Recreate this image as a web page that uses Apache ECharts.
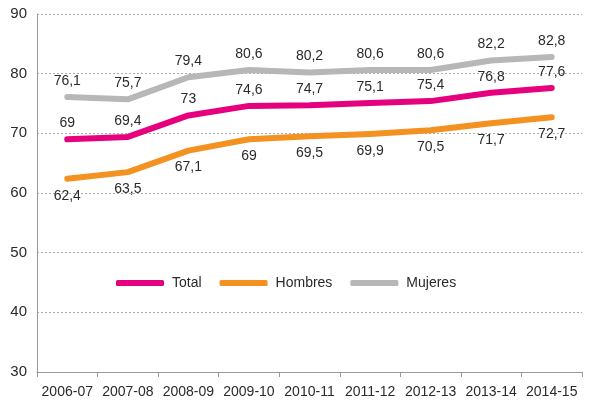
<!DOCTYPE html>
<html><head><meta charset="utf-8">
<script src="https://cdn.jsdelivr.net/npm/echarts@6/dist/echarts.min.js"></script>
<style>html,body{margin:0;padding:0;background:#fff}#c{width:590px;height:401px}</style>
</head><body><div id="c"></div>
<script>
const categories = ['2006-07','2007-08','2008-09','2009-10','2010-11','2011-12','2012-13','2013-14','2014-15'];
const total = [69, 69.4, 73, 74.6, 74.7, 75.1, 75.4, 76.8, 77.6];
const hombres = [62.4, 63.5, 67.1, 69, 69.5, 69.9, 70.5, 71.7, 72.7];
const mujeres = [76.1, 75.7, 79.4, 80.6, 80.2, 80.6, 80.6, 82.2, 82.8];
const yTicks = {min: 30, max: 90, interval: 10};

const FONT = '"Liberation Sans Narrow", "Arial Narrow", "Liberation Sans", sans-serif';
const fmt = p => String(p.value).replace('.', ',');
function mk(name, data, color, pos) {
  return {
    name, type: 'line', data,
    symbol: 'circle', symbolSize: 0, showSymbol: true,
    lineStyle: {width: 6, color, cap: 'round', join: 'round'},
    itemStyle: {color},
    label: {show: true, position: pos, distance: pos === 'top' ? 9 : 10, formatter: fmt,
            color: '#2a2a2a', fontFamily: FONT, fontSize: 14},
    emphasis: {disabled: true}, animation: false
  };
}
const chart = echarts.init(document.getElementById('c'));
chart.setOption({
  animation: false,
  grid: {left: 37, right: 8, top: 14, bottom: 29},
  legend: {
    left: 111, top: 271, itemWidth: 48, itemHeight: 6, itemGap: 18, icon: 'roundRect',
    textStyle: {fontFamily: FONT, fontSize: 14, color: '#2a2a2a', padding: [0, 0, 0, 3]},
    data: ['Total', 'Hombres', 'Mujeres']
  },
  xAxis: {
    type: 'category', data: categories, boundaryGap: true,
    axisLine: {lineStyle: {color: '#999'}},
    axisTick: {show: true, lineStyle: {color: '#999'}, length: 5},
    axisLabel: {interval: 0, fontFamily: FONT, fontSize: 14, color: '#2a2a2a', margin: 13}
  },
  yAxis: {
    type: 'value', min: yTicks.min, max: yTicks.max, interval: yTicks.interval,
    axisLine: {show: true, lineStyle: {color: '#999'}},
    axisTick: {show: false},
    axisLabel: {fontFamily: FONT, fontSize: 15, color: '#2a2a2a', margin: 10},
    splitLine: {lineStyle: {color: '#aaa', type: [2, 2], width: 1}}
  },
  series: [
    mk('Total', total, '#E6007E', 'top'),
    mk('Hombres', hombres, '#F39220', 'bottom'),
    mk('Mujeres', mujeres, '#B7B7BA', 'top')
  ]
});
</script></body></html>
